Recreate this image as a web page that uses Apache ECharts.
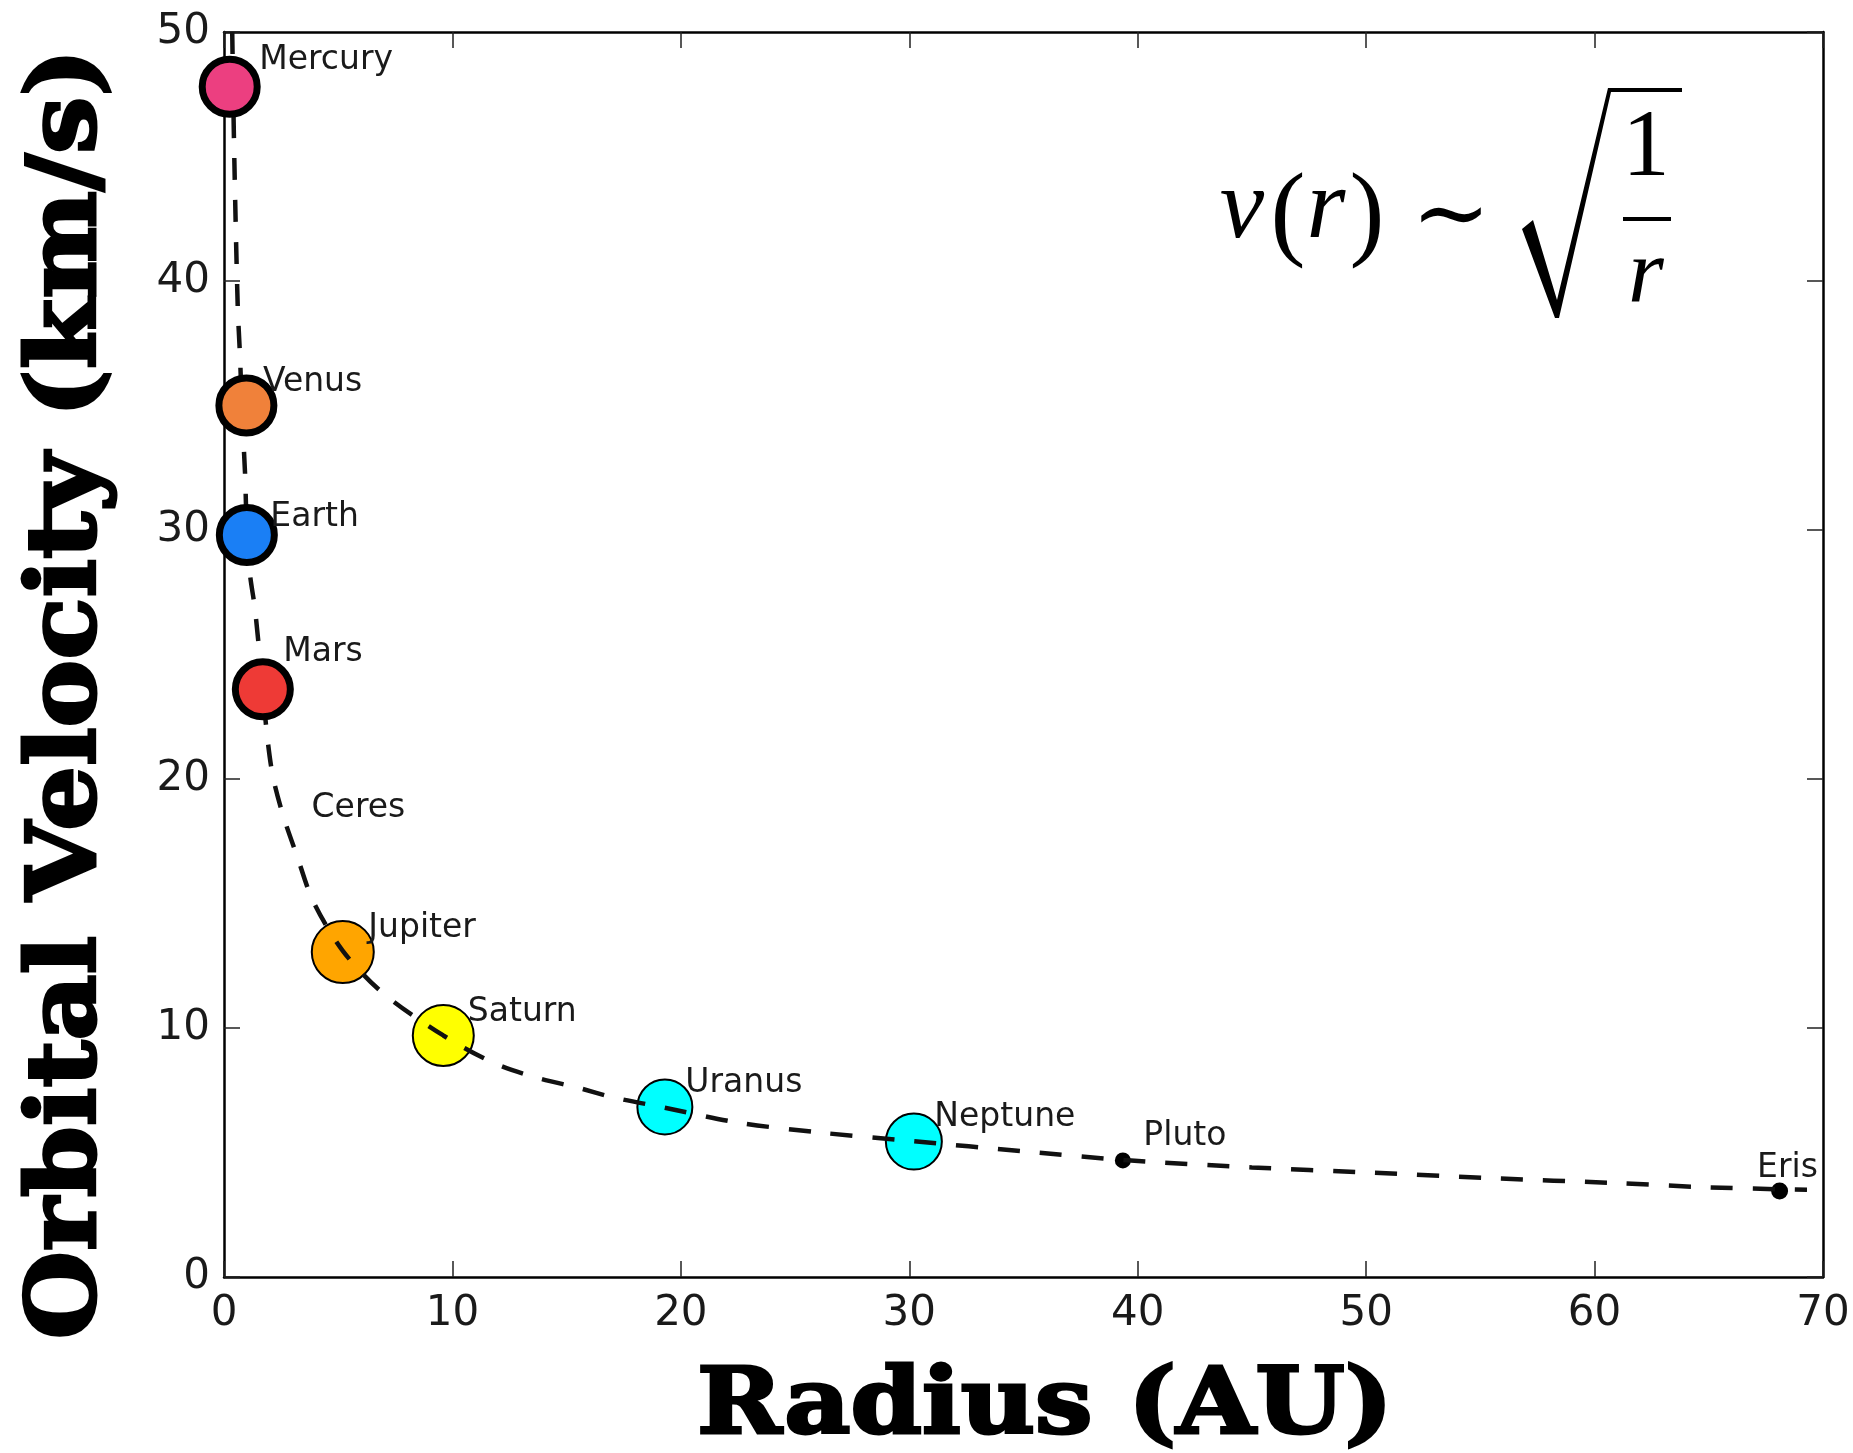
<!DOCTYPE html>
<html>
<head>
<meta charset="utf-8">
<script src="https://cdn.jsdelivr.net/npm/echarts@6/dist/echarts.min.js"></script>
<style>html,body{margin:0;padding:0;background:#fff}#c{width:1853px;height:1453px}</style>
</head>
<body>
<div id="c"></div>
<script>
// ---- data ----
const planetNames  = ['Mercury','Venus','Earth','Mars','Ceres','Jupiter','Saturn','Uranus','Neptune','Pluto','Eris'];
const radiusAU     = [0.25, 0.98, 1.0, 1.7, 2.76, 5.2, 9.6, 19.3, 30.2, 39.35, 68.1];
const velocityKms  = [47.8, 35.0, 29.8, 23.6, 17.9, 13.05, 9.7, 6.83, 5.44, 4.68, 3.45];

const curveRadius   = [0.36, 0.45, 0.6, 0.7, 0.8, 0.92, 1.0, 1.14, 1.36, 1.7, 1.88, 2.14, 2.6, 3.2, 3.9, 5.2, 6.96, 9.6, 11.8, 13.7, 15.5, 17.1, 19.3, 22.5, 26.1, 30.2, 35, 39.4, 45, 50, 55.4, 61, 65, 69.3];
const curveVelocity = [50.0, 45.0, 39.0, 37.0, 34.5, 32.3, 30.0, 28.2, 26.8, 23.6, 21.8, 20.1, 18.5, 16.9, 15.1, 13.1, 11.4, 9.7, 8.6, 8.0, 7.6, 7.2, 6.8, 6.2, 5.8, 5.45, 5.05, 4.7, 4.4, 4.2, 3.97, 3.77, 3.6, 3.5];

const xTicks = [0, 10, 20, 30, 40, 50, 60, 70];
const yTicks = [0, 10, 20, 30, 40, 50];

const xTitle = 'Radius (AU)';
const yTitle = 'Orbital Velocity (km/s)';

// ---- styles (kept apart from data) ----
const planetStyle = {
  Mercury: {color:'#EC3F80', size:55, border:7, front:true,  dx:29,  dy:-26},
  Venus:   {color:'#F0813A', size:55, border:7, front:true,  dx:16,  dy:-23},
  Earth:   {color:'#1A7FF5', size:55, border:7, front:true,  dx:23,  dy:-18},
  Mars:    {color:'#EE3A36', size:55, border:7, front:true,  dx:20,  dy:-37},
  Ceres:   {color:'rgba(0,0,0,0)', size:0, border:0, front:true, dx:24, dy:-23},
  Jupiter: {color:'#FFA500', size:62, border:2, front:false, dx:25,  dy:-24},
  Saturn:  {color:'#FFFF00', size:61, border:2, front:false, dx:24,  dy:-23},
  Uranus:  {color:'#00FFFF', size:55, border:2, front:false, dx:20,  dy:-24},
  Neptune: {color:'#00FFFF', size:56, border:2, front:false, dx:20,  dy:-24},
  Pluto:   {color:'#000000', size:16, border:0, front:false, dx:20,  dy:-24},
  Eris:    {color:'#000000', size:17, border:0, front:false, dx:-23, dy:-23}
};

function planetItems(front) {
  const out = [];
  planetNames.forEach((n, i) => {
    const s = planetStyle[n];
    if (s.front !== front || s.size === 0) return;
    out.push({
      name: n, value: [radiusAU[i], velocityKms[i]], symbolSize: s.size,
      itemStyle: {color: s.color, borderColor: '#000', borderWidth: s.border, opacity: 1}
    });
  });
  return out;
}
const labelItems = planetNames.map((n, i) => ({
  name: n, value: [radiusAU[i], velocityKms[i]],
  label: {offset: [planetStyle[n].dx, planetStyle[n].dy]}
}));
const curveData = curveRadius.map((r, i) => [r, curveVelocity[i]]);

const tickFont = {fontFamily: 'DejaVu Sans', fontSize: 42, color: '#1a1a1a'};
const axisLineStyle = {show: true, onZero: false, lineStyle: {color: '#000', width: 2.5}};
const tickStyle = {show: true, inside: true, length: 16, lineStyle: {color: '#222', width: 1.5}};

const chart = echarts.init(document.getElementById('c'), null, {renderer: 'canvas'});
chart.setOption({
  animation: false,
  backgroundColor: '#fff',
  grid: {left: 224, right: 30, top: 32, bottom: 176, containLabel: false},
  xAxis: [
    {type: 'value', min: xTicks[0], max: xTicks[xTicks.length-1], interval: 10, position: 'bottom',
     axisLine: axisLineStyle, axisTick: tickStyle, splitLine: {show: false},
     axisLabel: Object.assign({margin: 16, showMinLabel: true, showMaxLabel: true}, tickFont)},
    {type: 'value', min: xTicks[0], max: xTicks[xTicks.length-1], interval: 10, position: 'top',
     axisLine: axisLineStyle, axisTick: tickStyle, splitLine: {show: false}, axisLabel: {show: false}}
  ],
  yAxis: [
    {type: 'value', min: yTicks[0], max: yTicks[yTicks.length-1], interval: 10, position: 'left',
     axisLine: axisLineStyle, axisTick: tickStyle, splitLine: {show: false},
     axisLabel: Object.assign({margin: 14}, tickFont)},
    {type: 'value', min: yTicks[0], max: yTicks[yTicks.length-1], interval: 10, position: 'right',
     axisLine: axisLineStyle, axisTick: tickStyle, splitLine: {show: false}, axisLabel: {show: false}}
  ],
  series: [
    {type: 'scatter', name: 'outer', z: 2, silent: true, data: planetItems(false)},
    {type: 'line', name: 'curve', z: 3, silent: true, smooth: 0.3, symbol: 'none', data: curveData,
     lineStyle: {color: '#111', width: 4.5, type: [22, 20]}},
    {type: 'scatter', name: 'inner', z: 4, silent: true, data: planetItems(true)},
    {type: 'scatter', name: 'labels', z: 5, silent: true, symbolSize: 1, data: labelItems,
     itemStyle: {color: 'rgba(0,0,0,0)', opacity: 1},
     label: {show: true, position: 'right', distance: 0, formatter: '{b}', opacity: 1,
             fontFamily: 'DejaVu Sans', fontSize: 33, color: '#1a1a1a'}}
  ],
  graphic: [
    {type: 'text', x: 1045, y: 1409, scaleX: 1.11, z: 10,
     style: {text: xTitle, font: 'bold 92px "DejaVu Serif"', fill: '#000', stroke: '#000', lineWidth: 3,
             textAlign: 'center', textVerticalAlign: 'middle'}},
    {type: 'text', x: 70, y: 694, rotation: Math.PI/2, scaleX: 1.06, z: 10,
     style: {text: yTitle, font: 'bold 96px "DejaVu Serif"', fill: '#000', stroke: '#000', lineWidth: 3,
             textAlign: 'center', textVerticalAlign: 'middle'}},
    // formula v(r) ~ sqrt(1/r)
    {type: 'text', x: 1242, y: 211, z: 10, style: {text: 'v', font: 'italic 100px "Liberation Serif"', fill: '#000', textAlign: 'center', textVerticalAlign: 'middle'}},
    {type: 'text', x: 1288, y: 218, z: 10, style: {text: '(', font: '105px "Liberation Serif"', fill: '#000', textAlign: 'center', textVerticalAlign: 'middle'}},
    {type: 'text', x: 1326, y: 211, z: 10, style: {text: 'r', font: 'italic 100px "Liberation Serif"', fill: '#000', textAlign: 'center', textVerticalAlign: 'middle'}},
    {type: 'text', x: 1367, y: 218, z: 10, style: {text: ')', font: '105px "Liberation Serif"', fill: '#000', textAlign: 'center', textVerticalAlign: 'middle'}},
    {type: 'text', x: 1451, y: 220, z: 10, style: {text: '∼', font: '95px "DejaVu Serif"', fill: '#000', textAlign: 'center', textVerticalAlign: 'middle'}},
    {type: 'polygon', z: 10, shape: {points: [[1522,229],[1533,220],[1557,300],[1608,88],[1682,88],[1682,92],[1611,92],[1559,318],[1555,318]]}, style: {fill: '#000'}},
    {type: 'text', x: 1646, y: 150, z: 10, style: {text: '1', font: '95px "Liberation Serif"', fill: '#000', textAlign: 'center', textVerticalAlign: 'middle'}},
    {type: 'rect', z: 10, shape: {x: 1623, y: 217, width: 48, height: 4}, style: {fill: '#000'}},
    {type: 'text', x: 1646, y: 277, z: 10, style: {text: 'r', font: 'italic 92px "Liberation Serif"', fill: '#000', textAlign: 'center', textVerticalAlign: 'middle'}}
  ]
});
</script>
</body>
</html>
